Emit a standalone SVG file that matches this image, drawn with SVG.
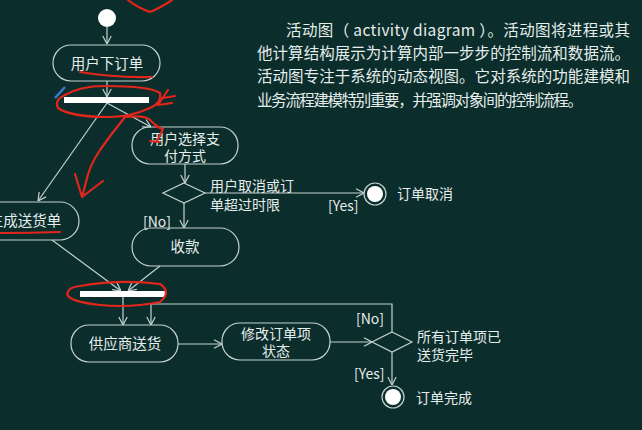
<svg xmlns="http://www.w3.org/2000/svg" width="642" height="430" viewBox="0 0 642 430">
<defs>
<style>
.bg{fill:#0b2d2b}
.nd{fill:none;stroke:#c3d2cf;stroke-width:1.2}
.bar{fill:#ffffff}
.ln{fill:none;stroke:#c3d2cf;stroke-width:1.2}
.t{font-family:"Noto Sans CJK SC","Liberation Sans",sans-serif;fill:#e6eeec;font-size:14.5px}
.c{text-anchor:middle}
.s{font-size:14px}
.p{font-size:15.5px}
.red{fill:none;stroke:#e3261c;stroke-width:2.2;stroke-linecap:round;stroke-linejoin:round}
</style>
<marker id="a" viewBox="0 0 10 10" markerWidth="10" markerHeight="10" refX="10" refY="5" orient="auto" markerUnits="userSpaceOnUse">
<path d="M2,0.8 L10,5 L2,9.2" fill="none" stroke="#c3d2cf" stroke-width="1.2"/>
</marker>
</defs>
<rect class="bg" x="0" y="0" width="642" height="430"/>

<g id="description">
<text class="t p" x="286" y="36" textLength="344" lengthAdjust="spacing">活动图（ activity diagram ）。活动图将进程或其</text>
<text class="t p" x="257" y="59" textLength="373" lengthAdjust="spacing">他计算结构展示为计算内部一步步的控制流和数据流。</text>
<text class="t p" x="257" y="82" textLength="373" lengthAdjust="spacing">活动图专注于系统的动态视图。它对系统的功能建模和</text>
<text class="t p" x="257" y="106" textLength="326" lengthAdjust="spacing">业务流程建模特别重要，并强调对象间的控制流程。</text>
</g>

<g id="connectors">
<line class="ln" x1="107" y1="27" x2="107" y2="44" marker-end="url(#a)"/>
<line class="ln" x1="107" y1="81" x2="107" y2="97" marker-end="url(#a)"/>
<line class="ln" x1="107" y1="103" x2="151" y2="127" marker-end="url(#a)"/>
<line class="ln" x1="107" y1="103" x2="38" y2="201" marker-end="url(#a)"/>
<line class="ln" x1="185" y1="164" x2="185" y2="183" marker-end="url(#a)"/>
<line class="ln" x1="205" y1="193" x2="364" y2="193" marker-end="url(#a)"/>
<line class="ln" x1="184" y1="203" x2="184" y2="228" marker-end="url(#a)"/>
<line class="ln" x1="52" y1="240" x2="121" y2="291" marker-end="url(#a)"/>
<line class="ln" x1="160" y1="266" x2="128" y2="291" marker-end="url(#a)"/>
<line class="ln" x1="123" y1="297" x2="123" y2="325" marker-end="url(#a)"/>
<polyline class="ln" points="392,332 392,304 151,304 151,325" marker-end="url(#a)"/>
<line class="ln" x1="178" y1="344" x2="222" y2="344" marker-end="url(#a)"/>
<line class="ln" x1="330" y1="342" x2="372" y2="342" marker-end="url(#a)"/>
<line class="ln" x1="392" y1="352" x2="392" y2="385" marker-end="url(#a)"/>
<text class="t s" x="210" y="191">用户取消或订</text>
<text class="t s" x="210" y="210">单超过时限</text>
<text class="t s" x="328" y="211">[Yes]</text>
<text class="t s" x="143" y="227">[No]</text>
<text class="t s" x="356" y="324">[No]</text>
<text class="t s" x="354" y="379">[Yes]</text>
</g>

<g id="start"><circle cx="107" cy="18" r="9" fill="#ffffff"/></g>
<g id="order"><rect class="nd" x="53" y="45" width="107" height="36" rx="18"/><text class="t c" x="107" y="69">用户下订单</text></g>
<g id="fork"><rect class="bar" x="64" y="97" width="85" height="6"/></g>
<g id="pay"><rect class="nd" x="132" y="127" width="106" height="37" rx="18"/><text class="t c s" x="185" y="144">用户选择支</text><text class="t c s" x="185" y="161">付方式</text></g>
<g id="decision1"><polygon class="nd" points="184,183 205,193 184,203 163,193"/></g>
<g id="cancel"><circle class="nd" cx="375" cy="194" r="11"/><circle cx="375" cy="194" r="8" fill="#ffffff"/><text class="t s" x="397" y="199">订单取消</text></g>
<g id="collect"><rect class="nd" x="132" y="228" width="107" height="38" rx="19"/><text class="t c" x="185" y="252">收款</text></g>
<g id="shipnote"><rect class="nd" x="-30" y="202" width="109" height="38" rx="19"/><text class="t c" x="25" y="226">生成送货单</text></g>
<g id="join"><rect class="bar" x="80" y="291" width="86" height="6"/></g>
<g id="supplier"><rect class="nd" x="71" y="325" width="107" height="37" rx="18"/><text class="t c" x="125" y="349">供应商送货</text></g>
<g id="modify"><rect class="nd" x="222" y="323" width="108" height="37" rx="18"/><text class="t c s" x="276" y="339">修改订单项</text><text class="t c s" x="276" y="356">状态</text></g>
<g id="decision2"><polygon class="nd" points="392,332 412,342 392,352 372,342"/><text class="t s" x="417" y="342">所有订单项已</text><text class="t s" x="417" y="360">送货完毕</text></g>
<g id="done"><circle class="nd" cx="393" cy="397" r="11"/><circle cx="393" cy="397" r="8" fill="#ffffff"/><text class="t s" x="416" y="403">订单完成</text></g>

<g id="annotations">
<path class="red" d="M128,0 Q138,8 150,12 Q160,8 172,0"/>
<path class="red" d="M80,72 Q115,78 152,77"/>
<path class="red" d="M65,95 Q80,86 105,86 Q150,86 160,93 Q162,103 150,108 Q130,117 110,117 Q70,117 58,108 Q54,100 65,95"/>
<path class="red" d="M158,105 L168,90 M158,105 L172,103 M163,98 L175,96"/>
<path class="red" d="M125,117 Q145,115 150,120 Q155,125 160,128 M155,126 L163,129 L157,141 M150,141 L160,142"/>
<path class="red" d="M125,117 Q112,133 100,150 Q90,165 87,178 Q84,190 82,197 M82,197 L75,174 M82,197 L103,181"/>
<path class="red" d="M0,233 Q30,233 60,232"/>
<path class="red" d="M80,286 Q120,279 160,284 Q172,292 160,302 Q130,308 100,305 Q70,302 67,294 Q68,287 80,286"/>
<path d="M55,98 L65,87" stroke="#3a7ad0" stroke-width="2.5" fill="none"/>
</g>
</svg>
